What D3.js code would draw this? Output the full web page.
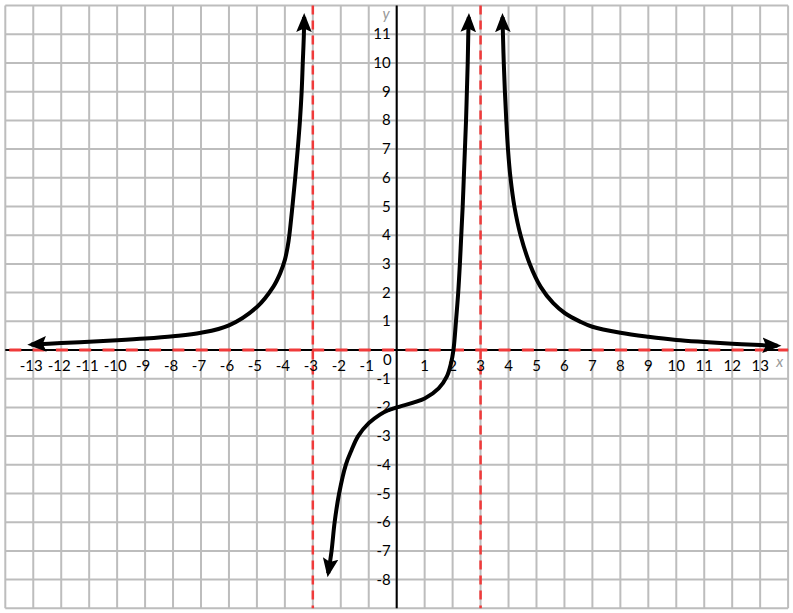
<!DOCTYPE html>
<html>
<head>
<meta charset="utf-8">
<script src="https://d3js.org/d3.v7.min.js"></script>
<style>
  html, body { margin: 0; padding: 0; background: #fff; }
  svg { display: block; }
  .tick-label { font-family: Lato, "Open Sans", sans-serif; font-size: 15px; fill: #000; }
  .axis-name { font-family: Lato, sans-serif; font-style: italic; font-size: 15px; fill: #999; }
</style>
</head>
<body>
<div id="graph"></div>
<script>

// grid extent (units)
var xDomain = [-14, 14]
var yDomain = [-9, 12]

// tick labels
var xTickValues = [-13, -12, -11, -10, -9, -8, -7, -6, -5, -4, -3, -2, -1, 1, 2, 3, 4, 5, 6, 7, 8, 9, 10, 11, 12, 13]
var yTickValues = [11, 10, 9, 8, 7, 6, 5, 4, 3, 2, 1, -1, -2, -3, -4, -5, -6, -7, -8]

// asymptotes
var verticalAsymptotes = [-3, 3]
var horizontalAsymptotes = [0]

// branch left of x = -3
var leftX = [-13.07, -12, -11, -10, -9, -8, -7, -6, -5, -4.41, -4.17, -4, -3.9, -3.84, -3.73, -3.63, -3.54, -3.46, -3.40, -3.36, -3.32, -3.31]
var leftY = [0.19, 0.24, 0.29, 0.34, 0.40, 0.48, 0.6, 0.86, 1.5, 2.21, 2.67, 3.14, 3.6, 4, 5, 6, 7, 8, 9, 10, 11, 11.6]

// branch between the asymptotes
var midX = [-2.45, -2.33, -2.22, -2.06, -1.82, -1.62, -1.38, -1.0, -0.6, -0.3, 0, 1, 1.5, 1.79, 1.94, 2.03, 2.12, 2.2, 2.26, 2.31, 2.36, 2.40, 2.44, 2.48, 2.51, 2.54, 2.56, 2.58]
var midY = [-7.78, -7, -6, -5, -4, -3.5, -3, -2.55, -2.25, -2.1, -2.0, -1.69, -1.34, -0.93, -0.47, 0, 1, 2, 3, 4, 5, 6, 7, 8, 9, 10, 11, 11.6]

// branch right of x = 3
var rightX = [3.785, 3.80, 3.83, 3.87, 3.92, 3.98, 4.07, 4.21, 4.43, 4.76, 5.15, 5.6, 6.02, 6.56, 7, 8, 9, 10, 11, 12, 13, 13.62]
var rightY = [11.6, 11, 10, 9, 8, 7, 6, 5, 4, 3, 2.2, 1.63, 1.28, 0.99, 0.81, 0.6, 0.46, 0.35, 0.28, 0.22, 0.17, 0.15]

var width = 793,
    height = 613

var x = d3.scaleLinear().domain(xDomain).range([5.3, 788.1])
var y = d3.scaleLinear().domain(yDomain).range([608.3, 5.6])

var svg = d3.select('#graph')
    .append('svg')
        .attr('width', width)
        .attr('height', height)

var defs = svg.append('defs')

// arrow heads, one for path ends and one for path starts
function addArrow(id, orient) {
    defs.append('marker')
            .attr('id', id)
            .attr('markerUnits', 'userSpaceOnUse')
            .attr('markerWidth', 24)
            .attr('markerHeight', 20)
            .attr('viewBox', '0 -10 24 20')
            .attr('refX', 15)
            .attr('refY', 0)
            .attr('orient', orient)
        .append('path')
            .attr('d', 'M0,-7.8L19,0L0,7.8L3.5,0Z')
            .style('fill', '#000')
}
addArrow('arrow', 'auto')
addArrow('arrowStart', 'auto-start-reverse')

// grid
var gridX = d3.range(xDomain[0], xDomain[1] + 1)
var gridY = d3.range(yDomain[0], yDomain[1] + 1)

svg.append('g')
    .selectAll('line')
    .data(gridX)
    .enter()
    .append('line')
        .attr('x1', function(d) { return x(d) })
        .attr('x2', function(d) { return x(d) })
        .attr('y1', y(yDomain[0]))
        .attr('y2', y(yDomain[1]))
        .style('stroke', '#bdbdbd')
        .style('stroke-width', 2)

svg.append('g')
    .selectAll('line')
    .data(gridY)
    .enter()
    .append('line')
        .attr('x1', x(xDomain[0]))
        .attr('x2', x(xDomain[1]))
        .attr('y1', function(d) { return y(d) })
        .attr('y2', function(d) { return y(d) })
        .style('stroke', '#bdbdbd')
        .style('stroke-width', 2)

// axes
svg.append('line')
    .attr('x1', x(xDomain[0])).attr('x2', x(xDomain[1]))
    .attr('y1', y(0)).attr('y2', y(0))
    .style('stroke', '#000')
    .style('stroke-width', 2)

svg.append('line')
    .attr('x1', x(0)).attr('x2', x(0))
    .attr('y1', y(yDomain[0])).attr('y2', y(yDomain[1]))
    .style('stroke', '#000')
    .style('stroke-width', 2)

// asymptotes
svg.append('g')
    .selectAll('line')
    .data(verticalAsymptotes)
    .enter()
    .append('line')
        .attr('x1', function(d) { return x(d) })
        .attr('x2', function(d) { return x(d) })
        .attr('y1', y(yDomain[1]))
        .attr('y2', y(yDomain[0]))
        .style('stroke', '#f03a3a')
        .style('stroke-width', 2.5)
        .style('stroke-dasharray', '9,6')

svg.append('g')
    .selectAll('line')
    .data(horizontalAsymptotes)
    .enter()
    .append('line')
        .attr('x1', x(xDomain[0]))
        .attr('x2', x(xDomain[1]))
        .attr('y1', function(d) { return y(d) })
        .attr('y2', function(d) { return y(d) })
        .style('stroke', '#f03a3a')
        .style('stroke-width', 3)
        .style('stroke-dasharray', '12,11.3')
        .style('stroke-dashoffset', -4)

// tick labels
svg.append('g')
    .selectAll('text')
    .data(xTickValues)
    .enter()
    .append('text')
        .attr('class', 'tick-label')
        .attr('x', function(d) { return x(d) - (d < 0 ? 2 : 0) })
        .attr('y', y(0) + 21)
        .attr('text-anchor', 'middle')
        .text(function(d) { return d })

svg.append('g')
    .selectAll('text')
    .data(yTickValues)
    .enter()
    .append('text')
        .attr('class', 'tick-label')
        .attr('x', x(0) - 6)
        .attr('y', function(d) { return y(d) + 5 })
        .attr('text-anchor', 'end')
        .text(function(d) { return d })

svg.append('text')
    .attr('class', 'tick-label')
    .attr('x', x(0) - 5)
    .attr('y', y(0) + 15)
    .attr('text-anchor', 'end')
    .text('0')

svg.append('text')
    .attr('class', 'axis-name')
    .attr('x', x(0) - 7)
    .attr('y', y(yDomain[1]) + 13)
    .attr('text-anchor', 'end')
    .text('y')

svg.append('text')
    .attr('class', 'axis-name')
    .attr('x', x(xDomain[1]) - 5)
    .attr('y', y(0) + 17)
    .attr('text-anchor', 'end')
    .text('x')

// curve branches
var line = d3.line()
    .x(function(d) { return x(d[0]) })
    .y(function(d) { return y(d[1]) })
    .curve(d3.curveCatmullRom.alpha(0.5))

function zip(xs, ys) {
    return xs.map(function(v, i) { return [v, ys[i]] })
}

var branches = [
    zip(leftX, leftY),
    zip(midX, midY),
    zip(rightX, rightY)
]

svg.append('g')
    .selectAll('path')
    .data(branches)
    .enter()
    .append('path')
        .attr('d', line)
        .style('fill', 'none')
        .style('stroke', '#000')
        .style('stroke-width', 4)
        .attr('marker-start', 'url(#arrowStart)')
        .attr('marker-end', 'url(#arrow)')

</script>
</body>
</html>
